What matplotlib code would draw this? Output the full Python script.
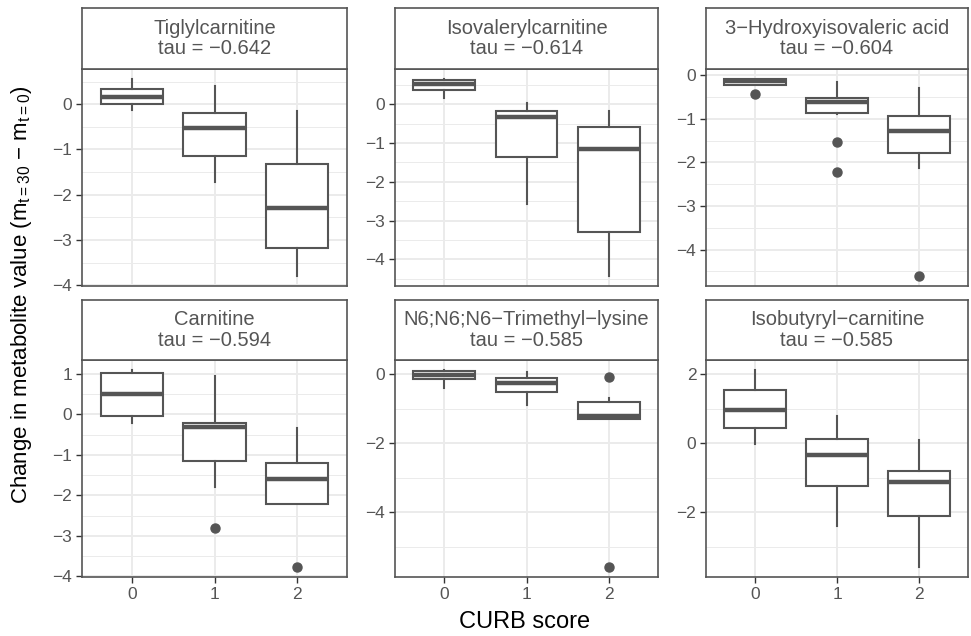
import numpy as np
import matplotlib
matplotlib.use("Agg")
import matplotlib.pyplot as plt
from matplotlib.ticker import MultipleLocator

plt.rcParams['font.family'] = ['Liberation Sans', 'DejaVu Sans']
plt.rcParams['mathtext.fontset'] = 'custom'
plt.rcParams['mathtext.rm'] = 'Liberation Sans'
plt.rcParams['mathtext.it'] = 'Liberation Sans'

# facet titles
metabolites = ["Tiglylcarnitine", "Isovalerylcarnitine", "3\u2212Hydroxyisovaleric acid",
               "Carnitine", "N6;N6;N6\u2212Trimethyl\u2212lysine", "Isobutyryl\u2212carnitine"]
taus = ["\u22120.642", "\u22120.614", "\u22120.604", "\u22120.594", "\u22120.585", "\u22120.585"]
curb = [0, 1, 2]

# box stats per metabolite, one value per CURB group (0, 1, 2)
q1 = [[0.00, -1.15, -3.17],
      [0.37, -1.35, -3.29],
      [-0.21, -0.86, -1.79],
      [-0.03, -1.16, -2.20],
      [-0.13, -0.53, -1.30],
      [0.44, -1.24, -2.09]]
med = [[0.17, -0.52, -2.30],
       [0.52, -0.32, -1.15],
       [-0.14, -0.62, -1.27],
       [0.50, -0.30, -1.60],
       [-0.03, -0.26, -1.22],
       [0.97, -0.35, -1.11]]
q3 = [[0.34, -0.19, -1.33],
      [0.63, -0.17, -0.58],
      [-0.08, -0.51, -0.94],
      [1.02, -0.21, -1.20],
      [0.09, -0.12, -0.82],
      [1.54, 0.13, -0.80]]
whislo = [[-0.12, -1.71, -3.80],
          [0.17, -2.58, -4.43],
          [-0.21, -0.88, -2.12],
          [-0.20, -1.80, -2.20],
          [-0.40, -0.90, -1.30],
          [-0.01, -2.38, -3.58]]
whishi = [[0.56, 0.41, -0.16],
          [0.65, 0.03, -0.17],
          [-0.08, -0.15, -0.29],
          [1.10, 0.94, -0.34],
          [0.12, 0.05, -0.69],
          [2.12, 0.78, 0.09]]
fliers = [[[], [], []],
          [[], [], []],
          [[-0.43], [-1.52, -2.21], [-4.61]],
          [[], [-2.80], [-3.77]],
          [[], [], [-0.10, -5.59]],
          [[], [], []]]
ystep = [1, 1, 1, 1, 2, 2]

W, H = 971, 636
fig = plt.figure(figsize=(W / 100, H / 100), dpi=100)

cols = [(82, 347), (395, 658), (706, 968)]
rows = [(8, 69, 286), (300, 360, 577)]
line_col = '#555555'
grid_col = '#EBEBEB'
text_col = '#555555'

for i in range(6):
    r, c = divmod(i, 3)
    x0, x1 = cols[c]
    s0, s1, p1 = rows[r]
    ax = fig.add_axes([x0 / W, 1 - p1 / H, (x1 - x0) / W, (p1 - s1) / H])
    st = fig.add_axes([x0 / W, 1 - s1 / H, (x1 - x0) / W, (s1 - s0) / H])

    stats = []
    for k in range(3):
        stats.append(dict(q1=q1[i][k], med=med[i][k], q3=q3[i][k],
                          whislo=whislo[i][k], whishi=whishi[i][k],
                          fliers=np.array(fliers[i][k])))
    ax.bxp(stats, positions=curb, widths=0.75, patch_artist=True, showcaps=False,
           boxprops=dict(facecolor='white', edgecolor=line_col, linewidth=1.5),
           medianprops=dict(color=line_col, linewidth=3.2, solid_capstyle='butt'),
           whiskerprops=dict(color=line_col, linewidth=1.5),
           flierprops=dict(marker='o', markerfacecolor=line_col, markeredgecolor=line_col,
                           markersize=6.5),
           zorder=3)

    # ggplot-style 5% expansion of the data range
    vals = [v for k in range(3) for v in [whislo[i][k], whishi[i][k]] + fliers[i][k]]
    lo, hi = min(vals), max(vals)
    pad = 0.05 * (hi - lo)
    ax.set_ylim(lo - pad, hi + pad)
    ax.set_xlim(-0.6, 2.6)

    ax.yaxis.set_major_locator(MultipleLocator(ystep[i]))
    ax.yaxis.set_minor_locator(MultipleLocator(ystep[i] / 2))
    ax.set_xticks(curb)
    ax.grid(which='major', color=grid_col, linewidth=1.4, zorder=0)
    ax.grid(which='minor', axis='y', color=grid_col, linewidth=0.7, zorder=0)
    ax.set_axisbelow(True)
    ax.tick_params(axis='both', which='major', length=4, width=1, color='#333333',
                   labelcolor=text_col, labelsize=12.5, pad=3)
    ax.tick_params(which='minor', length=0)
    if r == 0:
        ax.tick_params(axis='x', labelbottom=False, length=0)
    else:
        ax.set_xticklabels([str(v) for v in curb])
    for sp in ax.spines.values():
        sp.set_color(line_col)
        sp.set_linewidth(1.2)

    st.set_xticks([])
    st.set_yticks([])
    for sp in st.spines.values():
        sp.set_color(line_col)
        sp.set_linewidth(1.2)
    st.text(0.5, 0.5, metabolites[i] + "\ntau = " + taus[i], ha='center', va='center',
            fontsize=14.5, color=text_col, linespacing=1.1, transform=st.transAxes)

fig.text(525 / W, 1 - 622 / H, "CURB score", ha='center', va='center', fontsize=17,
         color='black')
fig.text(22 / W, 1 - 295 / H,
         r"Change in metabolite value (m$_{\mathrm{t=30}}$ $-$ m$_{\mathrm{t=0}}$)",
         ha='center', va='center', rotation=90, fontsize=16, color='black')

fig.savefig("out.png", dpi=100)
